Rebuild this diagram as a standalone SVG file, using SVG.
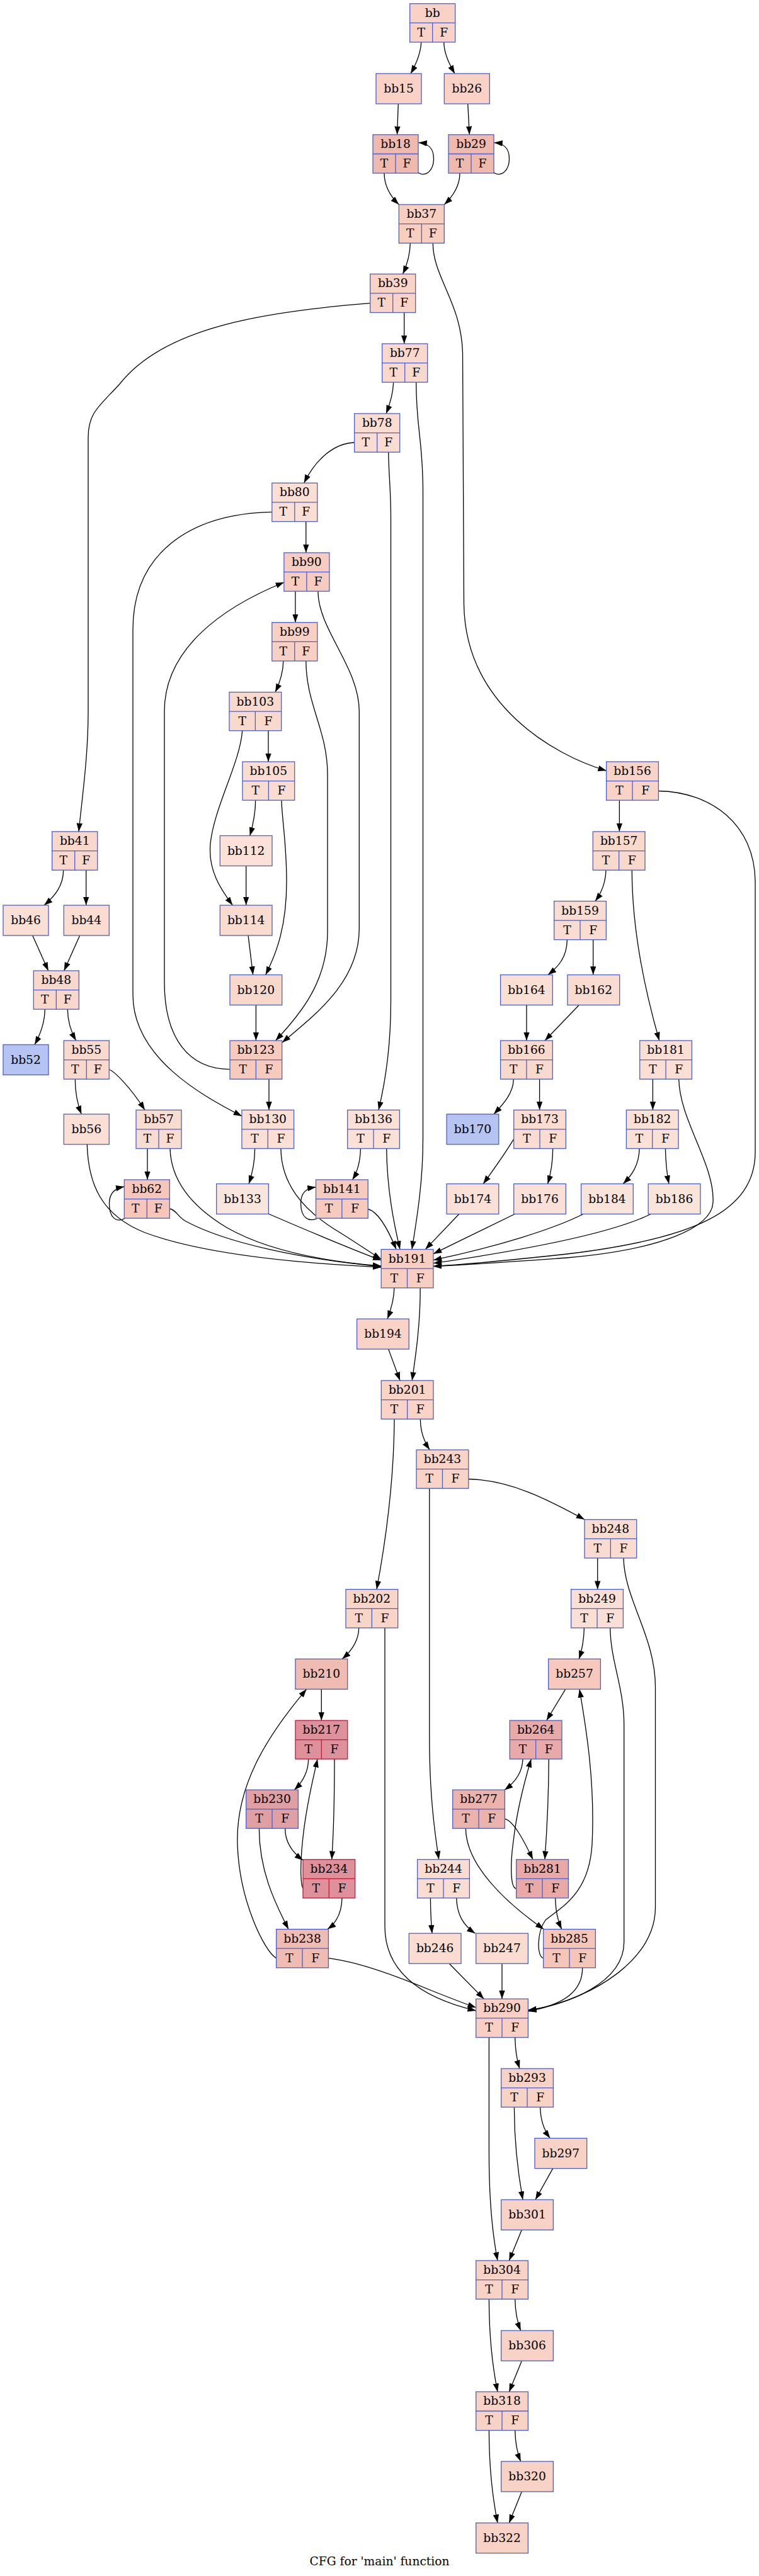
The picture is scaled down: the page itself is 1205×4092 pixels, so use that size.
<svg xmlns="http://www.w3.org/2000/svg" width="1205" height="4092" viewBox="0 0 1205 4092">
<style>
.n{stroke:#4a5fd0;stroke-width:1.3}
.h{stroke:#c41a38;stroke-width:1.3}
.d{stroke:#4a5fd0;stroke-width:1.3}
.dh{stroke:#c41a38;stroke-width:1.3}
text{font-family:"DejaVu Serif","Liberation Serif",serif;font-size:18.67px;fill:#000;text-anchor:middle}
#edges path{fill:none;stroke:#000;stroke-width:1.3;marker-end:url(#ah)}
</style>
<defs>
<marker id="ah" markerUnits="userSpaceOnUse" markerWidth="14" markerHeight="10" refX="13.3" refY="4.7" orient="auto">
<path d="M0,0 L13.3,4.7 L0,9.4 z" fill="#000"/>
</marker>
</defs>
<rect width="1205" height="4092" fill="#fff"/>
<g id="edges">
<path d="M668.7,67 C668,85 661,101 652,117"/>
<path d="M704.7,67 C705,85 713,101 722,117"/>
<path d="M632.3,164.9 L630.5,213.9"/>
<path d="M742.7,164.9 L745.3,213.9"/>
<path d="M663.5,274 C676,282 688.5,271 688.5,252 C688.5,236 681,228 664.5,226.5"/>
<path d="M610,275.1 C610,296 620,312 633.3,325"/>
<path d="M783.5,274 C796,282 808.5,271 808.5,252 C808.5,236 801,228 784.5,226.5"/>
<path d="M730,275.1 C730,296 719,312 705.3,325"/>
<path d="M651.3,386.2 C651,404 646,421 639.5,435.3"/>
<path d="M687.3,386.2 C687.3,440 732,480 734.5,560 L736.5,960 C739,1120 880,1200 962.7,1224.3"/>
<path d="M587.7,481.7 C420,495 260,520 190,610 C158,645 140,655 140,695 L140,1130 C140,1200 131,1262 125,1321"/>
<path d="M641.7,496.5 L641.7,546"/>
<path d="M624.7,607.2 C624,626 619,642 613,657"/>
<path d="M660.7,607.2 C660.7,680 671.5,700 671.5,780 L671.5,1810 C671.5,1880 661,1940 654,1984.6"/>
<path d="M562.7,703 C530,704 501,730 482.7,767.3"/>
<path d="M616.7,718.2 C617.5,760 620.5,780 620.5,820 L620.5,1590 C620.5,1662 611,1722 601,1763.3"/>
<path d="M431.8,813.3 C300,816 211,880 211,1000 L211,1580 C211,1680 320,1740 384,1773"/>
<path d="M485.8,828.5 L485.8,878"/>
<path d="M468.9,939.2 L468.9,988.8"/>
<path d="M504.9,939.2 C505,1000 570.3,1060 570.3,1130 L570.3,1475 C570.3,1560 500,1612 448,1656"/>
<path d="M449.8,1050 C449.5,1069 444,1085 437,1099.5"/>
<path d="M485.8,1050 C486,1120 520,1160 520,1230 L520,1480 C520,1560 476,1612 437.5,1653"/>
<path d="M384.7,1160.7 C381,1212 340,1282 334,1340 C330,1382 350,1412 369.3,1438"/>
<path d="M426,1160.7 L426,1210"/>
<path d="M405.7,1271.2 C405.5,1291 401.5,1311 396.7,1327.5"/>
<path d="M447,1271.2 C447.5,1300 455,1340 455,1400 C455,1470 440,1512 421.7,1548.5"/>
<path d="M390.7,1375.5 L390.7,1438"/>
<path d="M394,1486 L401.7,1548.5"/>
<path d="M406.4,1596.5 L406.4,1653"/>
<path d="M365,1698.6 C300,1698 261,1650 261,1560 L261,1130 C261,1032 350,966 451,925"/>
<path d="M427,1714.2 L427,1763.3"/>
<path d="M404.6,1824.5 C404.5,1845 401,1863 395,1880.5"/>
<path d="M445.9,1824.5 C446.5,1880 480,1920 530,1952 C560,1970 588,1990 605.2,2000"/>
<path d="M427,1928.5 C500,1960 560,1985 605.2,2002"/>
<path d="M572.4,1824.5 C572,1845 567,1862 559.5,1874"/>
<path d="M613.7,1824.5 C614.5,1890 625,1942 635,1984.6"/>
<path d="M505,1935 C490,1942 478,1935 477.5,1912 C477.5,1895 485,1888 501.5,1885.7"/>
<path d="M584.2,1920.5 C600,1925 615,1950 629,1984.6"/>
<path d="M100.7,1382.2 C100.5,1406 88,1423 70,1438"/>
<path d="M136.7,1382.2 L136.7,1438"/>
<path d="M51.7,1486 L76.7,1542"/>
<path d="M126.7,1486 L101.7,1542"/>
<path d="M71.3,1603.2 C71,1626 63.5,1644 55,1659.5"/>
<path d="M107.3,1603.2 C107.5,1626 114,1641 120.7,1653"/>
<path d="M119.3,1714.2 C119.3,1736 123.5,1755 129.3,1769.8"/>
<path d="M173.3,1699 C180,1701 205,1724 230,1763.3"/>
<path d="M138.3,1817.8 C140,1880 160,1930 230,1958 C330,1995 500,2008 605.2,2013"/>
<path d="M234,1824.5 L234,1874"/>
<path d="M270,1824.5 C271.5,1880 310,1920 360,1950 C430,1990 530,2005 605.2,2011"/>
<path d="M199,1935 C185,1943 173.5,1935 173.5,1912 C173.5,1895 182,1888 197.3,1885"/>
<path d="M269.5,1920 C280,1922 282,1933 295,1940 C360,1975 480,2000 605.2,2012"/>
<path d="M983.4,1271.2 L983.4,1321"/>
<path d="M1045.4,1256.5 C1130,1258 1198,1310 1199,1400 L1199,1830 C1199,1925 1100,1968 900,1992 C800,2003 730,2009 688,2011.5"/>
<path d="M962,1382.2 C961.5,1401 955,1418 945,1431.5"/>
<path d="M1003.3,1382.2 C1003.5,1470 1020,1560 1046.7,1653"/>
<path d="M900.4,1492.7 C900,1521 886,1536 870,1548.5"/>
<path d="M941.7,1492.7 L941.7,1548.5"/>
<path d="M836,1596.5 L836,1653"/>
<path d="M919.3,1596.5 L865,1653"/>
<path d="M815.3,1714.2 C815,1736 800,1753 784,1769.8"/>
<path d="M856.6,1714.2 L856.6,1763.3"/>
<path d="M815.7,1809.3 C800,1835 785,1856 767.2,1880.5"/>
<path d="M877.7,1824.5 C877.5,1850 874,1866 869.5,1880.5"/>
<path d="M1036.4,1714.2 L1036.4,1763.3"/>
<path d="M1077.7,1714.2 C1079,1780 1135,1850 1132,1910 C1130,1950 1050,1985 900,1998 C800,2005 730,2010 688,2011.5"/>
<path d="M1015.1,1824.5 C1014.5,1851 1003,1867 989.3,1880.5"/>
<path d="M1056.4,1824.5 C1057,1850 1059,1866 1062,1880.5"/>
<path d="M728.8,1928.5 L675.3,1984.6"/>
<path d="M817.3,1928.5 L688,1991.7"/>
<path d="M926,1928.5 C880,1952 790,1980 688,2001.7"/>
<path d="M1033.3,1928.5 C990,1950 900,1976 688,2006.7"/>
<path d="M625.9,2045.8 C625.5,2066 620.5,2081 615,2095.1"/>
<path d="M667.2,2045.8 C667.5,2100 660.5,2150 654.2,2193"/>
<path d="M616.7,2143.1 L635.1,2193"/>
<path d="M626,2254.2 C625.5,2350 612,2450 598,2524.7"/>
<path d="M667.3,2254.2 C667.5,2276 674,2291 682.2,2303.1"/>
<path d="M681.8,2364.3 L681.8,2760 C681.8,2850 690,2910 696.7,2953.8"/>
<path d="M743.8,2349.5 C810,2351 870,2382 928,2413.8"/>
<path d="M948.7,2475 L948.7,2524.7"/>
<path d="M990,2475 C991,2540 1040.5,2600 1040.5,2680 L1040.5,3030 C1040.5,3110 950,3172 838.4,3195"/>
<path d="M927.4,2585.9 C927,2605 924,2621 919.3,2635.3"/>
<path d="M968.7,2585.9 C969.5,2640 990.7,2680 990.7,2740 L990.7,3085 C990.7,3150 900,3185 838.4,3193"/>
<path d="M897.7,2683.3 L867.7,2733"/>
<path d="M830,2794.2 C829.5,2815 818,2831 801,2843.5"/>
<path d="M871.3,2794.2 C871,2860 868,2912 865,2953.8"/>
<path d="M739.4,2904.4 C740,2962 800,3020 863.3,3064.6"/>
<path d="M801.4,2889.2 C815,2893 830,2920 846,2953.8"/>
<path d="M819.7,2999.8 C810,3000 810,2960 815,2925 C820,2880 832,2832 843.3,2794.2"/>
<path d="M881.7,3015 C882,3037 886,3052 891.7,3064.6"/>
<path d="M862.7,3110.6 C852,3108 852,3070 866,3050 C890,3030 935,3010 940,2930 C945,2830 930,2742 920,2683.3"/>
<path d="M924.7,3125.8 C925,3166 890,3186 838.4,3194"/>
<path d="M683.4,3015 C683.5,3037 684.5,3055 686,3071.2"/>
<path d="M724.7,3015 C725.5,3041 735,3058 754.5,3071.2"/>
<path d="M713.3,3119.2 L768.3,3175.3"/>
<path d="M797,3119.2 L797,3175.3"/>
<path d="M569.7,2585.9 C569.5,2606 558.5,2622 543.3,2635.3"/>
<path d="M611,2585.9 L611,3060 C611,3140 680,3176 755.7,3194"/>
<path d="M510.3,2683.3 L510.3,2733"/>
<path d="M489.7,2794.2 C489.5,2816 480,2831 467.3,2843.2"/>
<path d="M531,2794.2 C531,2870 529,2920 526.7,2953.8"/>
<path d="M411.4,2904.4 C411.5,2970 435,3020 458,3064.6"/>
<path d="M452.7,2904.4 C452.5,2926 465,2943 481,2955"/>
<path d="M481,2999.8 C476,2990 477,2950 482,2910 C488,2860 498,2822 504,2794.2"/>
<path d="M543,3015 C542.5,3040 533,3055 520,3064.6"/>
<path d="M438.7,3110.6 C420,3100 380,3020 377,2930 C374,2840 420,2762 486.7,2683.3"/>
<path d="M521.4,3110.6 C560,3115 620,3135 680,3160 C710,3172 735,3182 755.7,3189"/>
<path d="M776.4,3236.5 L776.4,3420 C776.4,3500 782,3550 790,3591"/>
<path d="M817.7,3236.5 C818,3256 820.5,3272 825,3286"/>
<path d="M816.4,3347.2 C816.5,3400 822,3450 830,3494.3"/>
<path d="M857.7,3347.2 C858,3368 864,3384 873.3,3396.6"/>
<path d="M877.7,3444.6 L850,3494.3"/>
<path d="M828.3,3542.3 L808.3,3591"/>
<path d="M776.4,3652.2 C776.5,3710 782,3760 790,3799.4"/>
<path d="M817.7,3652.2 C818,3672 821,3688 826.7,3702.2"/>
<path d="M828.3,3750.2 L808.3,3799.4"/>
<path d="M776.4,3860.6 C776.5,3918 782,3968 790,4007.7"/>
<path d="M817.7,3860.6 C818,3880 821,3896 826.7,3910"/>
<path d="M828.3,3958 L808.3,4007.7"/>
</g>
<g id="n_bb" transform="translate(650.7,5.8)"><rect width="72" height="61.2" fill="#f9d2c5" class="n"/><path d="M0,30.6H72M36,30.6V61.2" class="d"/><text x="36" y="21">bb</text><text x="18" y="52">T</text><text x="54" y="52">F</text></g>
<g id="n_bb15" transform="translate(597,116.9)"><rect width="72" height="48" fill="#f9d2c5" class="n"/><text x="36" y="30">bb15</text></g>
<g id="n_bb26" transform="translate(705.3,116.9)"><rect width="72" height="48" fill="#f9d2c5" class="n"/><text x="36" y="30">bb26</text></g>
<g id="n_bb18" transform="translate(592,213.9)"><rect width="72" height="61.2" fill="#efb9ae" class="n"/><path d="M0,30.6H72M36,30.6V61.2" class="d"/><text x="36" y="21">bb18</text><text x="18" y="52">T</text><text x="54" y="52">F</text></g>
<g id="n_bb29" transform="translate(712,213.9)"><rect width="72" height="61.2" fill="#efb9ae" class="n"/><path d="M0,30.6H72M36,30.6V61.2" class="d"/><text x="36" y="21">bb29</text><text x="18" y="52">T</text><text x="54" y="52">F</text></g>
<g id="n_bb37" transform="translate(633.3,325)"><rect width="72" height="61.2" fill="#f8cebf" class="n"/><path d="M0,30.6H72M36,30.6V61.2" class="d"/><text x="36" y="21">bb37</text><text x="18" y="52">T</text><text x="54" y="52">F</text></g>
<g id="n_bb39" transform="translate(587.7,435.3)"><rect width="72" height="61.2" fill="#f9d4c6" class="n"/><path d="M0,30.6H72M36,30.6V61.2" class="d"/><text x="36" y="21">bb39</text><text x="18" y="52">T</text><text x="54" y="52">F</text></g>
<g id="n_bb77" transform="translate(606.7,546)"><rect width="72" height="61.2" fill="#fad8cc" class="n"/><path d="M0,30.6H72M36,30.6V61.2" class="d"/><text x="36" y="21">bb77</text><text x="18" y="52">T</text><text x="54" y="52">F</text></g>
<g id="n_bb78" transform="translate(562.7,657)"><rect width="72" height="61.2" fill="#fadcd1" class="n"/><path d="M0,30.6H72M36,30.6V61.2" class="d"/><text x="36" y="21">bb78</text><text x="18" y="52">T</text><text x="54" y="52">F</text></g>
<g id="n_bb80" transform="translate(431.8,767.3)"><rect width="72" height="61.2" fill="#fbdfd5" class="n"/><path d="M0,30.6H72M36,30.6V61.2" class="d"/><text x="36" y="21">bb80</text><text x="18" y="52">T</text><text x="54" y="52">F</text></g>
<g id="n_bb90" transform="translate(450.9,878)"><rect width="72" height="61.2" fill="#f7cbbd" class="n"/><path d="M0,30.6H72M36,30.6V61.2" class="d"/><text x="36" y="21">bb90</text><text x="18" y="52">T</text><text x="54" y="52">F</text></g>
<g id="n_bb99" transform="translate(431.8,988.8)"><rect width="72" height="61.2" fill="#f8d0c3" class="n"/><path d="M0,30.6H72M36,30.6V61.2" class="d"/><text x="36" y="21">bb99</text><text x="18" y="52">T</text><text x="54" y="52">F</text></g>
<g id="n_bb103" transform="translate(364,1099.5)"><rect width="82.7" height="61.2" fill="#f9d9cc" class="n"/><path d="M0,30.6H82.7M41.35,30.6V61.2" class="d"/><text x="41.35" y="21">bb103</text><text x="20.7" y="52">T</text><text x="62" y="52">F</text></g>
<g id="n_bb105" transform="translate(385,1210)"><rect width="82.7" height="61.2" fill="#fadcd1" class="n"/><path d="M0,30.6H82.7M41.35,30.6V61.2" class="d"/><text x="41.35" y="21">bb105</text><text x="20.7" y="52">T</text><text x="62" y="52">F</text></g>
<g id="n_bb112" transform="translate(349.3,1327.5)"><rect width="82.7" height="48" fill="#fbe1d7" class="n"/><text x="41.35" y="30">bb112</text></g>
<g id="n_bb114" transform="translate(349.3,1438)"><rect width="82.7" height="48" fill="#f9dbcf" class="n"/><text x="41.35" y="30">bb114</text></g>
<g id="n_bb120" transform="translate(365,1548.5)"><rect width="82.7" height="48" fill="#f9d8cc" class="n"/><text x="41.35" y="30">bb120</text></g>
<g id="n_bb123" transform="translate(365,1653)"><rect width="82.7" height="61.2" fill="#f6cabd" class="n"/><path d="M0,30.6H82.7M41.35,30.6V61.2" class="d"/><text x="41.35" y="21">bb123</text><text x="20.7" y="52">T</text><text x="62" y="52">F</text></g>
<g id="n_bb130" transform="translate(383.9,1763.3)"><rect width="82.7" height="61.2" fill="#fbdfd5" class="n"/><path d="M0,30.6H82.7M41.35,30.6V61.2" class="d"/><text x="41.35" y="21">bb130</text><text x="20.7" y="52">T</text><text x="62" y="52">F</text></g>
<g id="n_bb133" transform="translate(343.7,1880.5)"><rect width="82.7" height="48" fill="#f8e5dc" class="n"/><text x="41.35" y="30">bb133</text></g>
<g id="n_bb136" transform="translate(551.7,1763.3)"><rect width="82.7" height="61.2" fill="#fbe0d6" class="n"/><path d="M0,30.6H82.7M41.35,30.6V61.2" class="d"/><text x="41.35" y="21">bb136</text><text x="20.7" y="52">T</text><text x="62" y="52">F</text></g>
<g id="n_bb141" transform="translate(501.5,1874)"><rect width="82.7" height="61.2" fill="#f6cabc" class="n"/><path d="M0,30.6H82.7M41.35,30.6V61.2" class="d"/><text x="41.35" y="21">bb141</text><text x="20.7" y="52">T</text><text x="62" y="52">F</text></g>
<g id="n_bb41" transform="translate(82.7,1321)"><rect width="72" height="61.2" fill="#f9d8cb" class="n"/><path d="M0,30.6H72M36,30.6V61.2" class="d"/><text x="36" y="21">bb41</text><text x="18" y="52">T</text><text x="54" y="52">F</text></g>
<g id="n_bb46" transform="translate(5,1438)"><rect width="72" height="48" fill="#fadfd4" class="n"/><text x="36" y="30">bb46</text></g>
<g id="n_bb44" transform="translate(101.3,1438)"><rect width="72" height="48" fill="#fadcd0" class="n"/><text x="36" y="30">bb44</text></g>
<g id="n_bb48" transform="translate(53.3,1542)"><rect width="72" height="61.2" fill="#f9d7ca" class="n"/><path d="M0,30.6H72M36,30.6V61.2" class="d"/><text x="36" y="21">bb48</text><text x="18" y="52">T</text><text x="54" y="52">F</text></g>
<g id="n_bb52" transform="translate(5,1659.5)"><rect width="72" height="48" fill="#b5c4f2" class="n"/><text x="36" y="30">bb52</text></g>
<g id="n_bb55" transform="translate(101.3,1653)"><rect width="72" height="61.2" fill="#f9d9cc" class="n"/><path d="M0,30.6H72M36,30.6V61.2" class="d"/><text x="36" y="21">bb55</text><text x="18" y="52">T</text><text x="54" y="52">F</text></g>
<g id="n_bb56" transform="translate(101.3,1769.8)"><rect width="72" height="48" fill="#fadfd4" class="n"/><text x="36" y="30">bb56</text></g>
<g id="n_bb57" transform="translate(216,1763.3)"><rect width="72" height="61.2" fill="#f9dcd0" class="n"/><path d="M0,30.6H72M36,30.6V61.2" class="d"/><text x="36" y="21">bb57</text><text x="18" y="52">T</text><text x="54" y="52">F</text></g>
<g id="n_bb62" transform="translate(197.3,1874)"><rect width="72" height="61.2" fill="#f5c6b9" class="n"/><path d="M0,30.6H72M36,30.6V61.2" class="d"/><text x="36" y="21">bb62</text><text x="18" y="52">T</text><text x="54" y="52">F</text></g>
<g id="n_bb156" transform="translate(962.7,1210)"><rect width="82.7" height="61.2" fill="#f9d4c6" class="n"/><path d="M0,30.6H82.7M41.35,30.6V61.2" class="d"/><text x="41.35" y="21">bb156</text><text x="20.7" y="52">T</text><text x="62" y="52">F</text></g>
<g id="n_bb157" transform="translate(941.3,1321)"><rect width="82.7" height="61.2" fill="#f9d9cc" class="n"/><path d="M0,30.6H82.7M41.35,30.6V61.2" class="d"/><text x="41.35" y="21">bb157</text><text x="20.7" y="52">T</text><text x="62" y="52">F</text></g>
<g id="n_bb159" transform="translate(879.7,1431.5)"><rect width="82.7" height="61.2" fill="#fadcd0" class="n"/><path d="M0,30.6H82.7M41.35,30.6V61.2" class="d"/><text x="41.35" y="21">bb159</text><text x="20.7" y="52">T</text><text x="62" y="52">F</text></g>
<g id="n_bb164" transform="translate(794.6,1548.5)"><rect width="82.7" height="48" fill="#fadfd4" class="n"/><text x="41.35" y="30">bb164</text></g>
<g id="n_bb162" transform="translate(901,1548.5)"><rect width="82.7" height="48" fill="#fadbcf" class="n"/><text x="41.35" y="30">bb162</text></g>
<g id="n_bb166" transform="translate(794.6,1653)"><rect width="82.7" height="61.2" fill="#f9d9cc" class="n"/><path d="M0,30.6H82.7M41.35,30.6V61.2" class="d"/><text x="41.35" y="21">bb166</text><text x="20.7" y="52">T</text><text x="62" y="52">F</text></g>
<g id="n_bb181" transform="translate(1015.7,1653)"><rect width="82.7" height="61.2" fill="#fbdfd5" class="n"/><path d="M0,30.6H82.7M41.35,30.6V61.2" class="d"/><text x="41.35" y="21">bb181</text><text x="20.7" y="52">T</text><text x="62" y="52">F</text></g>
<g id="n_bb170" transform="translate(709.1,1769.8)"><rect width="82.7" height="48" fill="#b5c4f1" class="n"/><text x="41.35" y="30">bb170</text></g>
<g id="n_bb173" transform="translate(815.7,1763.3)"><rect width="82.7" height="61.2" fill="#fadcd0" class="n"/><path d="M0,30.6H82.7M41.35,30.6V61.2" class="d"/><text x="41.35" y="21">bb173</text><text x="20.7" y="52">T</text><text x="62" y="52">F</text></g>
<g id="n_bb182" transform="translate(994.4,1763.3)"><rect width="82.7" height="61.2" fill="#fbe0d6" class="n"/><path d="M0,30.6H82.7M41.35,30.6V61.2" class="d"/><text x="41.35" y="21">bb182</text><text x="20.7" y="52">T</text><text x="62" y="52">F</text></g>
<g id="n_bb174" transform="translate(709.1,1880.5)"><rect width="82.7" height="48" fill="#fae0d6" class="n"/><text x="41.35" y="30">bb174</text></g>
<g id="n_bb176" transform="translate(815.7,1880.5)"><rect width="82.7" height="48" fill="#fae0d6" class="n"/><text x="41.35" y="30">bb176</text></g>
<g id="n_bb184" transform="translate(922.6,1880.5)"><rect width="82.7" height="48" fill="#f9e4da" class="n"/><text x="41.35" y="30">bb184</text></g>
<g id="n_bb186" transform="translate(1029.2,1880.5)"><rect width="82.7" height="48" fill="#f9e4da" class="n"/><text x="41.35" y="30">bb186</text></g>
<g id="n_bb191" transform="translate(605.2,1984.6)"><rect width="82.7" height="61.2" fill="#f8cec1" class="n"/><path d="M0,30.6H82.7M41.35,30.6V61.2" class="d"/><text x="41.35" y="21">bb191</text><text x="20.7" y="52">T</text><text x="62" y="52">F</text></g>
<g id="n_bb194" transform="translate(566.6,2095.1)"><rect width="82.7" height="48" fill="#f9d3c6" class="n"/><text x="41.35" y="30">bb194</text></g>
<g id="n_bb201" transform="translate(605.3,2193)"><rect width="82.7" height="61.2" fill="#f9d3c6" class="n"/><path d="M0,30.6H82.7M41.35,30.6V61.2" class="d"/><text x="41.35" y="21">bb201</text><text x="20.7" y="52">T</text><text x="62" y="52">F</text></g>
<g id="n_bb243" transform="translate(661.1,2303.1)"><rect width="82.7" height="61.2" fill="#f9d3c6" class="n"/><path d="M0,30.6H82.7M41.35,30.6V61.2" class="d"/><text x="41.35" y="21">bb243</text><text x="20.7" y="52">T</text><text x="62" y="52">F</text></g>
<g id="n_bb248" transform="translate(928,2413.8)"><rect width="82.7" height="61.2" fill="#fadbd0" class="n"/><path d="M0,30.6H82.7M41.35,30.6V61.2" class="d"/><text x="41.35" y="21">bb248</text><text x="20.7" y="52">T</text><text x="62" y="52">F</text></g>
<g id="n_bb202" transform="translate(549,2524.7)"><rect width="82.7" height="61.2" fill="#f9d5c8" class="n"/><path d="M0,30.6H82.7M41.35,30.6V61.2" class="d"/><text x="41.35" y="21">bb202</text><text x="20.7" y="52">T</text><text x="62" y="52">F</text></g>
<g id="n_bb249" transform="translate(906.7,2524.7)"><rect width="82.7" height="61.2" fill="#fadfd4" class="n"/><path d="M0,30.6H82.7M41.35,30.6V61.2" class="d"/><text x="41.35" y="21">bb249</text><text x="20.7" y="52">T</text><text x="62" y="52">F</text></g>
<g id="n_bb210" transform="translate(469,2635.3)"><rect width="82.7" height="48" fill="#f0bbb1" class="n"/><text x="41.35" y="30">bb210</text></g>
<g id="n_bb257" transform="translate(870.7,2635.3)"><rect width="82.7" height="48" fill="#f6c9bc" class="n"/><text x="41.35" y="30">bb257</text></g>
<g id="n_bb217" transform="translate(469,2733)"><rect width="82.7" height="61.2" fill="#de919b" class="h"/><path d="M0,30.6H82.7M41.35,30.6V61.2" class="dh"/><text x="41.35" y="21">bb217</text><text x="20.7" y="52">T</text><text x="62" y="52">F</text></g>
<g id="n_bb264" transform="translate(809.3,2733)"><rect width="82.7" height="61.2" fill="#e8aaa8" class="n"/><path d="M0,30.6H82.7M41.35,30.6V61.2" class="d"/><text x="41.35" y="21">bb264</text><text x="20.7" y="52">T</text><text x="62" y="52">F</text></g>
<g id="n_bb230" transform="translate(390.7,2843.2)"><rect width="82.7" height="61.2" fill="#e09fa2" class="n"/><path d="M0,30.6H82.7M41.35,30.6V61.2" class="d"/><text x="41.35" y="21">bb230</text><text x="20.7" y="52">T</text><text x="62" y="52">F</text></g>
<g id="n_bb277" transform="translate(718.7,2843.2)"><rect width="82.7" height="61.2" fill="#ebb3ab" class="n"/><path d="M0,30.6H82.7M41.35,30.6V61.2" class="d"/><text x="41.35" y="21">bb277</text><text x="20.7" y="52">T</text><text x="62" y="52">F</text></g>
<g id="n_bb234" transform="translate(481,2953.8)"><rect width="82.7" height="61.2" fill="#de919b" class="h"/><path d="M0,30.6H82.7M41.35,30.6V61.2" class="dh"/><text x="41.35" y="21">bb234</text><text x="20.7" y="52">T</text><text x="62" y="52">F</text></g>
<g id="n_bb244" transform="translate(662.7,2953.8)"><rect width="82.7" height="61.2" fill="#fadcd0" class="n"/><path d="M0,30.6H82.7M41.35,30.6V61.2" class="d"/><text x="41.35" y="21">bb244</text><text x="20.7" y="52">T</text><text x="62" y="52">F</text></g>
<g id="n_bb281" transform="translate(819.7,2953.8)"><rect width="82.7" height="61.2" fill="#e8a9a7" class="n"/><path d="M0,30.6H82.7M41.35,30.6V61.2" class="d"/><text x="41.35" y="21">bb281</text><text x="20.7" y="52">T</text><text x="62" y="52">F</text></g>
<g id="n_bb238" transform="translate(438.7,3064.6)"><rect width="82.7" height="61.2" fill="#f0bbb0" class="n"/><path d="M0,30.6H82.7M41.35,30.6V61.2" class="d"/><text x="41.35" y="21">bb238</text><text x="20.7" y="52">T</text><text x="62" y="52">F</text></g>
<g id="n_bb246" transform="translate(649.3,3071.2)"><rect width="82.7" height="48" fill="#fadcd0" class="n"/><text x="41.35" y="30">bb246</text></g>
<g id="n_bb247" transform="translate(755.7,3071.2)"><rect width="82.7" height="48" fill="#fadcd0" class="n"/><text x="41.35" y="30">bb247</text></g>
<g id="n_bb285" transform="translate(862.7,3064.6)"><rect width="82.7" height="61.2" fill="#f5c5b8" class="n"/><path d="M0,30.6H82.7M41.35,30.6V61.2" class="d"/><text x="41.35" y="21">bb285</text><text x="20.7" y="52">T</text><text x="62" y="52">F</text></g>
<g id="n_bb290" transform="translate(755.7,3175.3)"><rect width="82.7" height="61.2" fill="#f8cfc2" class="n"/><path d="M0,30.6H82.7M41.35,30.6V61.2" class="d"/><text x="41.35" y="21">bb290</text><text x="20.7" y="52">T</text><text x="62" y="52">F</text></g>
<g id="n_bb293" transform="translate(795.7,3286)"><rect width="82.7" height="61.2" fill="#f8d2c5" class="n"/><path d="M0,30.6H82.7M41.35,30.6V61.2" class="d"/><text x="41.35" y="21">bb293</text><text x="20.7" y="52">T</text><text x="62" y="52">F</text></g>
<g id="n_bb297" transform="translate(849,3396.6)"><rect width="82.7" height="48" fill="#f8d2c5" class="n"/><text x="41.35" y="30">bb297</text></g>
<g id="n_bb301" transform="translate(795.7,3494.3)"><rect width="82.7" height="48" fill="#f8d2c5" class="n"/><text x="41.35" y="30">bb301</text></g>
<g id="n_bb304" transform="translate(755.7,3591)"><rect width="82.7" height="61.2" fill="#f8d2c5" class="n"/><path d="M0,30.6H82.7M41.35,30.6V61.2" class="d"/><text x="41.35" y="21">bb304</text><text x="20.7" y="52">T</text><text x="62" y="52">F</text></g>
<g id="n_bb306" transform="translate(795.7,3702.2)"><rect width="82.7" height="48" fill="#f8d2c5" class="n"/><text x="41.35" y="30">bb306</text></g>
<g id="n_bb318" transform="translate(755.7,3799.4)"><rect width="82.7" height="61.2" fill="#f8d2c5" class="n"/><path d="M0,30.6H82.7M41.35,30.6V61.2" class="d"/><text x="41.35" y="21">bb318</text><text x="20.7" y="52">T</text><text x="62" y="52">F</text></g>
<g id="n_bb320" transform="translate(795.7,3910)"><rect width="82.7" height="48" fill="#f8d2c5" class="n"/><text x="41.35" y="30">bb320</text></g>
<g id="n_bb322" transform="translate(755.7,4007.7)"><rect width="82.7" height="48" fill="#f8d2c5" class="n"/><text x="41.35" y="30">bb322</text></g>
<text id="caption" x="602.5" y="4075">CFG for 'main' function</text>
</svg>
